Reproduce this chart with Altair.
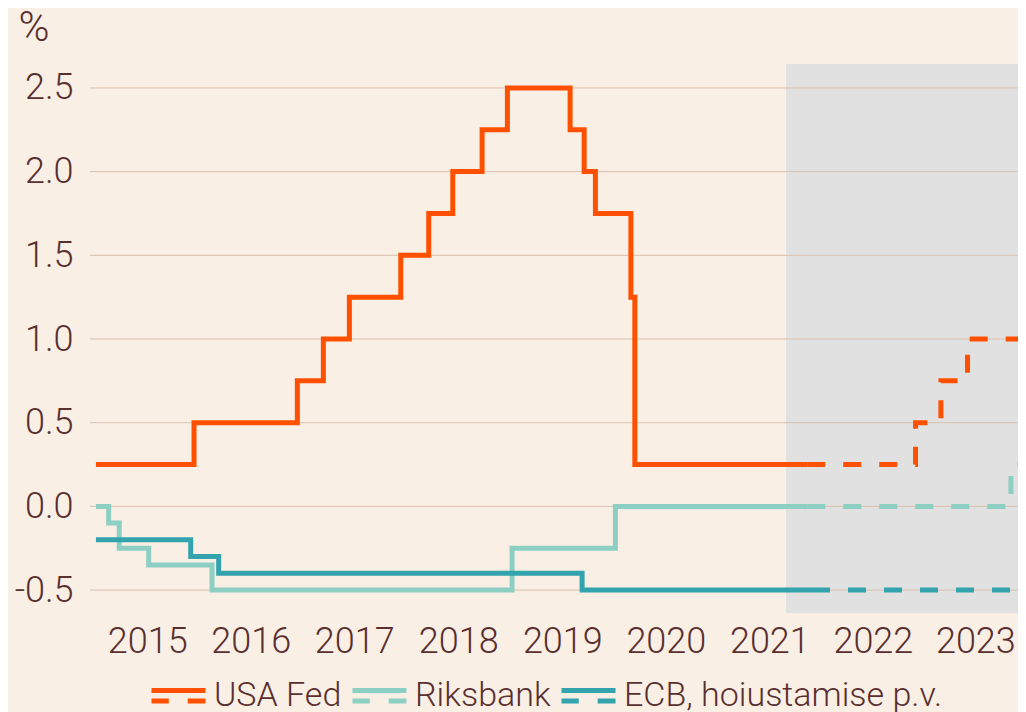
import altair as alt
import pandas as pd

# ---- data (fractional years, policy rates in %) ----
series_names = ["USA Fed", "Riksbank", "ECB, hoiustamise p.v."]
series_colors = ["#ff5000", "#8dcfc3", "#33a4ae"]

fed_hist_t = [2015.017, 2015.96, 2016.953, 2017.203, 2017.453, 2017.947, 2018.216, 2018.447,
              2018.729, 2018.972, 2019.575, 2019.71, 2019.818, 2020.159, 2020.197, 2021.854]
fed_hist_v = [0.25, 0.5, 0.75, 1.0, 1.25, 1.5, 1.75, 2.0, 2.25, 2.5, 2.25, 2.0, 1.75, 1.25, 0.25, 0.25]
fed_fc_t = [2021.854, 2022.895, 2023.139, 2023.395, 2023.88]
fed_fc_v = [0.25, 0.5, 0.75, 1.0, 1.0]

rb_hist_t = [2015.017, 2015.139, 2015.241, 2015.524, 2016.133, 2019.017, 2020.01, 2021.854]
rb_hist_v = [0.0, -0.1, -0.25, -0.35, -0.5, -0.25, 0.0, 0.0]
rb_fc_t = [2021.854, 2023.812, 2023.88]
rb_fc_v = [0.0, 0.25, 0.25]

ecb_hist_t = [2015.017, 2015.928, 2016.197, 2019.69, 2021.9]
ecb_hist_v = [-0.2, -0.3, -0.4, -0.5, -0.5]
ecb_fc_t = [2021.9, 2023.88]
ecb_fc_v = [-0.5, -0.5]

forecast_start = [2021.65]
forecast_end = [2023.88]
x_domain = [2014.96, 2023.88]
y_domain = [-0.637, 2.643]
y_ticks = [-0.5, 0.0, 0.5, 1.0, 1.5, 2.0, 2.5]
# label positions (mid-year)
x_ticks = [2015.51, 2016.505, 2017.50, 2018.50, 2019.50, 2020.495, 2021.49, 2022.485, 2023.47]

# ---- build tables ----
rows = []
def add(name, part, ts, vs):
    for t, v in zip(ts, vs):
        rows.append({"series": name, "part": part, "t": t, "v": v})

# draw order: Riksbank, ECB, Fed
add("Riksbank", "hist", rb_hist_t, rb_hist_v)
add("ECB, hoiustamise p.v.", "hist", ecb_hist_t, ecb_hist_v)
add("USA Fed", "hist", fed_hist_t, fed_hist_v)
add("Riksbank", "fc", rb_fc_t, rb_fc_v)
add("ECB, hoiustamise p.v.", "fc", ecb_fc_t, ecb_fc_v)
add("USA Fed", "fc", fed_fc_t, fed_fc_v)
df = pd.DataFrame(rows)

shade = pd.DataFrame({"start": forecast_start, "end": forecast_end})
grid = pd.DataFrame({"y": y_ticks})

TEXT = "#5a2f2f"
FONT = "Roboto"

xscale = alt.Scale(domain=x_domain, nice=False, zero=False)
yscale = alt.Scale(domain=y_domain, nice=False, zero=False)
cscale = alt.Scale(domain=series_names, range=series_colors)

x_axis = alt.Axis(values=x_ticks, labelExpr="floor(datum.value)", grid=False, ticks=False,
                  domain=False, title=None, labelFontSize=36, labelFont=FONT, labelFontWeight=300,
                  labelColor=TEXT, labelBaseline="alphabetic", labelPadding=39, labelFlush=False)
y_axis = alt.Axis(values=y_ticks,
                  labelExpr="datum.value < 0 ? '-' + format(abs(datum.value), '.1f') : format(datum.value, '.1f')",
                  grid=False, ticks=False, domain=False, title="%", titleAngle=0, titleAlign="left",
                  titleBaseline="alphabetic", titleX=-72, titleY=-24, titleFontSize=42,
                  titleFont=FONT, titleFontWeight=300, titleColor=TEXT,
                  labelFontSize=36, labelFont=FONT, labelFontWeight=300, labelColor=TEXT,
                  labelPadding=17)

base_x = alt.X("t:Q", scale=xscale, axis=x_axis)
base_y = alt.Y("v:Q", scale=yscale, axis=y_axis)

rect = alt.Chart(shade).mark_rect(color="#e1e1e1").encode(
    x=alt.X("start:Q", scale=xscale, axis=x_axis),
    x2="end:Q",
)

rules = alt.Chart(grid).mark_rule(color="#d9c0ae", strokeWidth=1).encode(
    y=alt.Y("y:Q", scale=yscale, axis=y_axis),
)

legend = alt.Legend(
    title=None, orient="none", legendX=59, legendY=602, direction="horizontal",
    symbolType="M-1,-0.19H1M-1,0.19H-0.36M0.34,0.19H1", symbolSize=2916, symbolStrokeWidth=5,
    labelFontSize=34, labelFont=FONT, labelFontWeight=300, labelColor=TEXT,
    labelOffset=6, columnPadding=0, labelLimit=500, padding=0,
)

solid = alt.Chart(df).transform_filter(alt.datum.part == "hist").mark_line(
    interpolate="step-after", strokeWidth=5, clip=True
).encode(
    x=base_x, y=base_y,
    color=alt.Color("series:N", scale=cscale, legend=legend, sort=series_names),
    detail="series:N",
)

dashed = alt.Chart(df).transform_filter(alt.datum.part == "fc").mark_line(
    interpolate="step-after", strokeWidth=5, strokeDash=[18, 18], clip=True
).encode(
    x=base_x, y=base_y,
    color=alt.Color("series:N", scale=cscale, legend=legend, sort=series_names),
    detail="series:N",
)

chart = alt.layer(rect, rules, solid, dashed).properties(
    width=928, height=549,
    autosize=alt.AutoSizeParams(type="none"),
    padding={"left": 82, "top": 56, "right": 0, "bottom": 99},
).configure(
    background="#f9efe5",
).configure_view(stroke=None)

chart.save("out.html", embed_options={"renderer": "svg", "actions": False})
